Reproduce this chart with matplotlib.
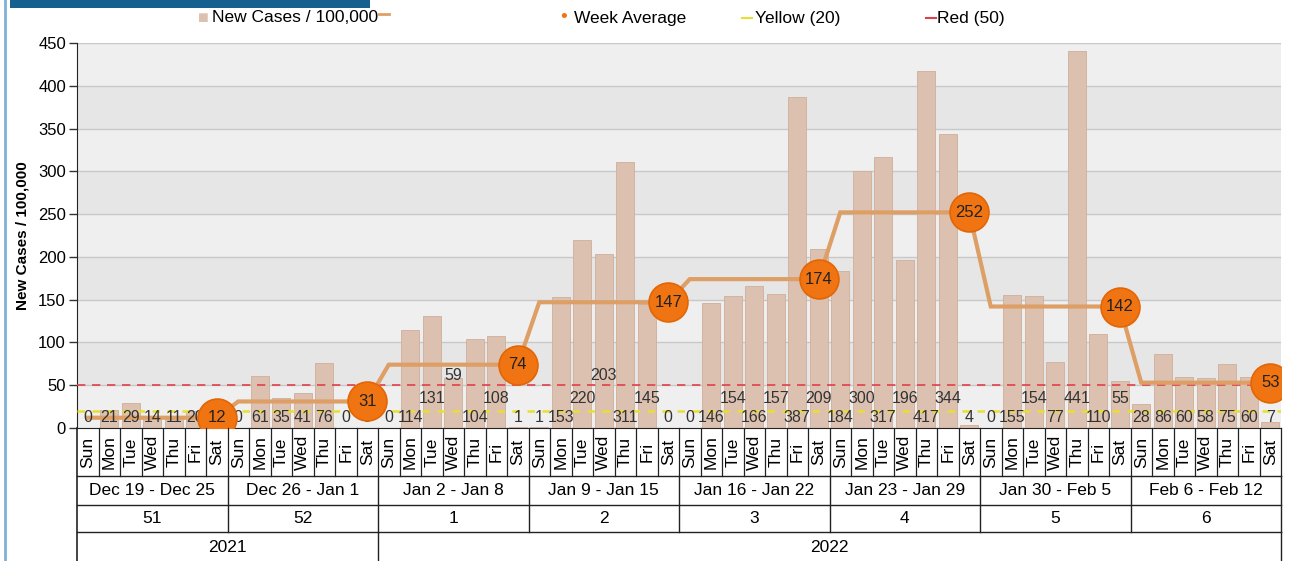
import numpy as np
import matplotlib
matplotlib.use("Agg")
import matplotlib.pyplot as plt
from matplotlib.patches import Rectangle

# data
days = ["Sun", "Mon", "Tue", "Wed", "Thu", "Fri", "Sat"]
week_ranges = ["Dec 19 - Dec 25", "Dec 26 - Jan 1", "Jan 2 - Jan 8", "Jan 9 - Jan 15",
               "Jan 16 - Jan 22", "Jan 23 - Jan 29", "Jan 30 - Feb 5", "Feb 6 - Feb 12"]
week_numbers = ["51", "52", "1", "2", "3", "4", "5", "6"]
years = ["2021", "2022"]
weeks_per_year = [2, 6]

new_cases = [0, 21, 29, 14, 11, 20, 0,
             0, 61, 35, 41, 76, 0, 0,
             0, 114, 131, 59, 104, 108, 1,
             1, 153, 220, 203, 311, 145, 0,
             0, 146, 154, 166, 157, 387, 209,
             184, 300, 317, 196, 417, 344, 4,
             0, 155, 154, 77, 441, 110, 55,
             28, 86, 60, 58, 75, 60, 7]
week_avg = [12, 31, 74, 147, 174, 252, 142, 53]
yellow_level = 20
red_level = 50

# staggered label rows as drawn in the original (0 = lowest)
label_row = [0, 0, 0, 0, 0, 0, 0,
             0, 0, 0, 0, 0, 0, 0,
             0, 0, 1, 2, 0, 1, 0,
             0, 0, 1, 2, 0, 1, 0,
             0, 0, 1, 0, 1, 0, 1,
             0, 1, 0, 1, 0, 1, 0,
             0, 0, 1, 0, 1, 0, 1,
             0, 0, 0, 0, 0, 0, 0]
row_y = [12, 35, 61]

W, H = 1289, 561
plt.rcParams["font.family"] = ["Liberation Sans", "DejaVu Sans"]

fig = plt.figure(figsize=(W / 100, H / 100), dpi=100)

x0, x1, ytop, ybot = 77, 1281, 43, 428
ax = fig.add_axes([x0 / W, (H - ybot) / H, (x1 - x0) / W, (ybot - ytop) / H])
n = len(new_cases)
x = np.arange(n)
ax.set_xlim(-0.5, n - 0.5)
ax.set_ylim(0, 450)

# banded background
for i, lo in enumerate(range(0, 450, 50)):
    ax.axhspan(lo, lo + 50, color="#e6e6e6" if i % 2 else "#efefef", zorder=0, lw=0)
for lv in range(50, 451, 50):
    ax.axhline(lv, color="#c8c8c8", lw=1, zorder=0.5)

ax.bar(x, new_cases, width=0.82, color="#dcc1b1", edgecolor="#cfae9b", lw=0.6, zorder=2)

ax.axhline(yellow_level, color="#e8e030", lw=1.8, ls=(0, (3, 3)), zorder=3)
ax.axhline(red_level, color="#e0404a", lw=1.2, ls=(0, (5, 4)), zorder=3)

# week average as a step line, marker on each Saturday
avg_daily = np.repeat(week_avg, 7)
ax.plot(x, avg_daily, color="#dd9f66", lw=3, zorder=4, solid_joinstyle="miter")
sat = x[6::7]
ax.plot(sat, week_avg, "o", ms=28, mfc="#f07412", mec="#e26606", mew=1.2, zorder=5)
for xs, v in zip(sat, week_avg):
    ax.text(xs, v, str(v), ha="center", va="center", fontsize=12, color="#222222", zorder=6)

for xi, v, r in zip(x, new_cases, label_row):
    ax.text(xi, row_y[r], str(v), ha="center", va="center", fontsize=11.5,
            color="#333333", zorder=4.5)

ax.set_yticks(range(0, 451, 50))
ax.tick_params(axis="y", length=6, width=1, labelsize=12, pad=2, color="#333333")
ax.tick_params(axis="x", bottom=False, labelbottom=False)
for s in ["top", "right"]:
    ax.spines[s].set_visible(False)
ax.spines["left"].set_color("#222222")
ax.spines["bottom"].set_color("#222222")
ax.set_ylabel("New Cases / 100,000", fontsize=11, fontweight="bold", labelpad=6)

# category table below the plot
tab = fig.add_axes([x0 / W, 0, (x1 - x0) / W, (H - ybot) / H])
tab.set_xlim(-0.5, n - 0.5)
tab.set_ylim(H, ybot)
tab.axis("off")
r1, r2, r3 = 476, 505, 532
lc = "#222222"
tab.plot([-0.5, -0.5], [ybot, H], color=lc, lw=1.2, clip_on=False)
for yy in [r1, r2, r3]:
    tab.plot([-0.5, n - 0.5], [yy, yy], color=lc, lw=1, clip_on=False)
for i in range(1, n + 1):
    tab.plot([i - 0.5, i - 0.5], [ybot, r1], color=lc, lw=0.9, clip_on=False)
for i in range(n):
    tab.text(i, (ybot + r1) / 2, days[i % 7], rotation=90, ha="center", va="center",
             fontsize=12.5)
for w in range(len(week_ranges)):
    tab.plot([w * 7 + 6.5] * 2, [r1, r3], color=lc, lw=1, clip_on=False)
    tab.text(w * 7 + 3, (r1 + r2) / 2, week_ranges[w], ha="center", va="center",
             fontsize=12.5)
    tab.text(w * 7 + 3, (r2 + r3) / 2, week_numbers[w], ha="center", va="center",
             fontsize=12.5)
start = 0
for yr, nw in zip(years, weeks_per_year):
    end = start + nw * 7
    tab.plot([end - 0.5] * 2, [r3, H], color=lc, lw=1, clip_on=False)
    tab.text((start + end - 1) / 2, 547, yr, ha="center", va="center", fontsize=12.5)
    start = end

# frame, title bar and legend
fig.add_artist(plt.Line2D([5 / W, 5 / W], [0, 1], color="#7fb2d6", lw=2))
fig.add_artist(Rectangle((10 / W, 1 - 8 / H), 360 / W, 8 / H, color="#15608f", lw=0))
ly = 1 - 18 / H
fig.text(198 / W, ly, "■", color="#dcc1b1", fontsize=13, va="center")
fig.text(212 / W, ly, "New Cases / 100,000", fontsize=12.5, va="center")
fig.add_artist(plt.Line2D([379 / W, 389 / W], [ly + 4 / H] * 2, color="#dd9f66", lw=2))
fig.text(560 / W, ly, "•", color="#f07412", fontsize=14, va="center")
fig.text(574 / W, ly, "Week Average", fontsize=12.5, va="center")
fig.add_artist(plt.Line2D([742 / W, 752 / W], [ly] * 2, color="#e8e030", lw=1.5))
fig.text(755 / W, ly, "Yellow (20)", fontsize=12.5, va="center")
fig.add_artist(plt.Line2D([926 / W, 936 / W], [ly] * 2, color="#e0404a", lw=1.5))
fig.text(937 / W, ly, "Red (50)", fontsize=12.5, va="center")

fig.savefig("out.png", dpi=100)
